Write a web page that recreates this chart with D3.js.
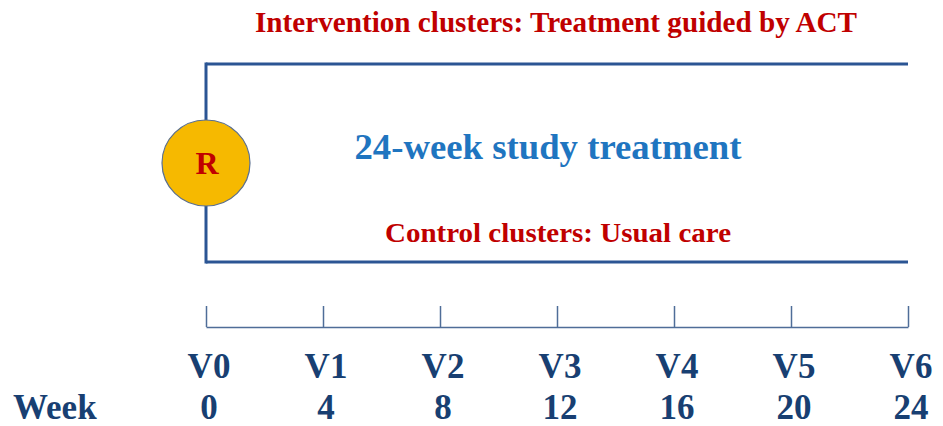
<!DOCTYPE html>
<html>
<head>
<meta charset="utf-8">
<script src="https://cdn.jsdelivr.net/npm/d3@7"></script>
<style>
  body { margin: 0; background: #fff; }
  text { font-family: "Liberation Serif", "Times New Roman", serif; font-weight: bold; }
</style>
</head>
<body>
<div id="chart"></div>
<script>
// Data
const visits = ["V0", "V1", "V2", "V3", "V4", "V5", "V6"];
const weeks = [0, 4, 8, 12, 16, 20, 24];
const armLabels = ["Intervention clusters: Treatment guided by ACT", "Control clusters: Usual care"];
const studyLabel = "24-week study treatment";
const randLabel = "R";

const WIDTH = 943;
const HEIGHT = 426;

const svg = d3.select("#chart")
  .append("svg")
  .attr("width", WIDTH)
  .attr("height", HEIGHT);

// week scale
const x = d3.scaleLinear().domain([0, 24]).range([206, 908]);

const lineColor = "#2b5594";
const navy = "#183f72";
const red = "#c00000";

// Arms (top = intervention, bottom = control)
const armY = d3.scalePoint().domain(armLabels).range([64, 262]);

svg.selectAll(".arm")
  .data(armLabels)
  .enter()
  .append("line")
  .attr("class", "arm")
  .attr("x1", x(0))
  .attr("x2", x(24))
  .attr("y1", (d) => armY(d))
  .attr("y2", (d) => armY(d))
  .attr("stroke", lineColor)
  .attr("stroke-width", 3);

svg.append("line")
  .attr("x1", x(0))
  .attr("x2", x(0))
  .attr("y1", armY(armLabels[0]) - 1.5)
  .attr("y2", armY(armLabels[1]) + 1.5)
  .attr("stroke", lineColor)
  .attr("stroke-width", 3);

// Arm labels
svg.append("text")
  .attr("x", 556)
  .attr("y", 32)
  .attr("text-anchor", "middle")
  .attr("fill", red)
  .attr("font-size", 30)
  .attr("textLength", 602)
  .attr("lengthAdjust", "spacingAndGlyphs")
  .text(armLabels[0]);

svg.append("text")
  .attr("x", 558)
  .attr("y", 242)
  .attr("text-anchor", "middle")
  .attr("fill", red)
  .attr("font-size", 28)
  .attr("textLength", 346)
  .attr("lengthAdjust", "spacingAndGlyphs")
  .text(armLabels[1]);

svg.append("text")
  .attr("x", 548)
  .attr("y", 159)
  .attr("text-anchor", "middle")
  .attr("fill", "#1f75c0")
  .attr("font-size", 35)
  .attr("textLength", 387)
  .attr("lengthAdjust", "spacingAndGlyphs")
  .text(studyLabel);

// Randomisation circle
const midY = (armY(armLabels[0]) + armY(armLabels[1])) / 2;
svg.append("ellipse")
  .attr("cx", x(0))
  .attr("cy", midY)
  .attr("rx", 44)
  .attr("ry", 43)
  .attr("fill", "#f6b900")
  .attr("stroke", "#5a6f8f")
  .attr("stroke-width", 1.2);

svg.append("text")
  .attr("x", x(0) + 1)
  .attr("y", midY + 11)
  .attr("text-anchor", "middle")
  .attr("fill", red)
  .attr("font-size", 32)
  .text(randLabel);

// Timeline axis
const axis = d3.axisTop(x)
  .tickValues(weeks)
  .tickSize(21)
  .tickSizeOuter(0)
  .tickFormat("");

const axisG = svg.append("g")
  .attr("transform", "translate(0,327)")
  .call(axis);

axisG.selectAll("path, line")
  .attr("stroke", "#4f6d98")
  .attr("stroke-width", 1.5);

// Visit labels
svg.selectAll(".visit")
  .data(visits)
  .enter()
  .append("text")
  .attr("class", "visit")
  .attr("x", (d, i) => x(weeks[i]) + 3)
  .attr("y", 378)
  .attr("text-anchor", "middle")
  .attr("fill", navy)
  .attr("font-size", 35)
  .text((d) => d);

// Week labels
svg.selectAll(".week")
  .data(weeks)
  .enter()
  .append("text")
  .attr("class", "week")
  .attr("x", (d) => x(d) + 3)
  .attr("y", 419)
  .attr("text-anchor", "middle")
  .attr("fill", navy)
  .attr("font-size", 35)
  .text((d) => d);

svg.append("text")
  .attr("x", 13)
  .attr("y", 419)
  .attr("fill", navy)
  .attr("font-size", 35)
  .text("Week");
</script>
</body>
</html>
